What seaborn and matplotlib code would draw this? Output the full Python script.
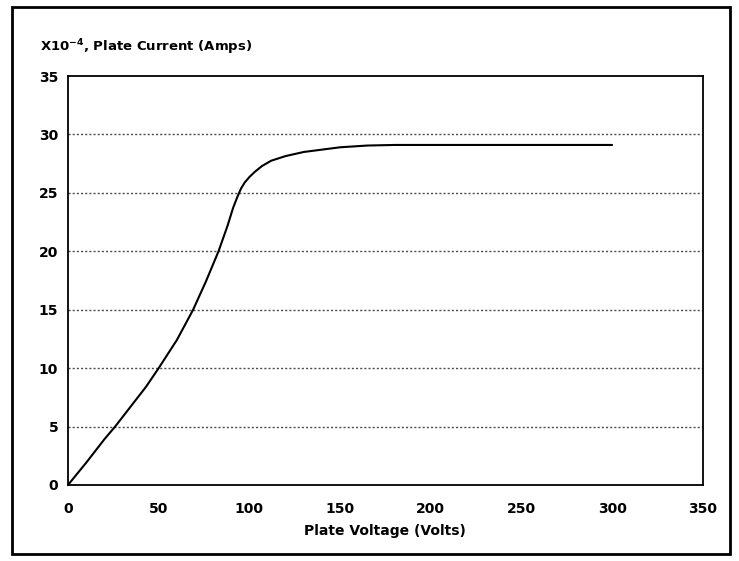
import pandas as pd
import seaborn as sns
import matplotlib.pyplot as plt
from matplotlib.patches import Rectangle

# values
voltage = [0, 10, 20, 26, 35, 43, 50, 60, 69, 76, 83, 88, 91, 93.5, 95.5, 97.5,
           100, 103, 107, 112, 120, 130, 140, 150, 165, 180, 200, 250, 300]
current = [0, 1.9, 3.9, 5, 6.8, 8.4, 10, 12.4, 15, 17.4, 20, 22.2, 23.7, 24.7,
           25.4, 25.9, 26.35, 26.8, 27.3, 27.75, 28.15, 28.5, 28.7, 28.9, 29.05,
           29.1, 29.1, 29.1, 29.1]
x_ticks = [0, 50, 100, 150, 200, 250, 300, 350]
y_ticks = [0, 5, 10, 15, 20, 25, 30, 35]
grid_levels = [5, 10, 15, 20, 25, 30]

df = pd.DataFrame({"voltage": voltage, "current": current})

sns.set_style("white")
plt.rcParams['font.family'] = ['DejaVu Sans']
plt.rcParams['font.weight'] = 'bold'
plt.rcParams['text.color'] = 'black'
plt.rcParams['xtick.color'] = 'black'
plt.rcParams['ytick.color'] = 'black'
plt.rcParams['axes.labelcolor'] = 'black'

fig = plt.figure(figsize=(7.39, 5.61), dpi=100)
ax = fig.add_axes([0.092, 0.1355, 0.859, 0.729])

#dotted horizontal grid
for g in grid_levels:
    ax.axhline(g, color='0.3', lw=1.0, ls=(0, (1.5, 1.5)), zorder=1)

sns.lineplot(data=df, x="voltage", y="current", color='black', lw=1.5, ax=ax, zorder=3)

ax.set_xlim(0, 350)
ax.set_ylim(0, 35)
ax.set_xticks(x_ticks)
ax.set_yticks(y_ticks)
ax.set_xticklabels([str(t) for t in x_ticks], fontsize=10, fontweight='bold')
ax.set_yticklabels([str(t) for t in y_ticks], fontsize=10, fontweight='bold')
ax.tick_params(axis='x', direction='in', length=7, width=1.2, pad=12)
ax.tick_params(axis='y', length=0, pad=7)
for s in ax.spines.values():
    s.set_color('black')
    s.set_linewidth(1.3)

ax.set_xlabel("Plate Voltage (Volts)", fontsize=10, fontweight='bold', labelpad=6)
ax.set_ylabel("")
fig.text(0.054, 0.908, r"X10$^{-4}$, Plate Current (Amps)", fontsize=9.5, fontweight='bold')

#outer frame
fig.patches.append(Rectangle((0.016, 0.012), 0.972, 0.975, transform=fig.transFigure,
                             fill=False, edgecolor='black', lw=2))

fig.savefig("out.png", dpi=100)
